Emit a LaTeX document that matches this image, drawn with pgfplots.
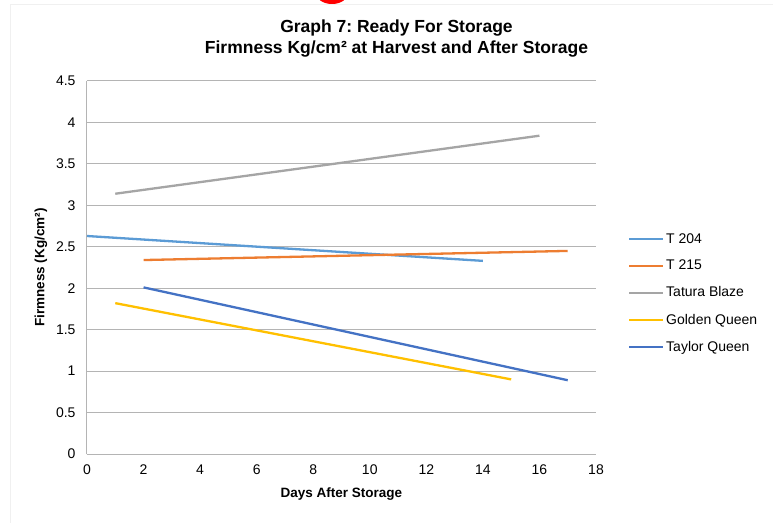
\documentclass[border=0pt]{standalone}
\usepackage{pgfplots}
\pgfplotsset{compat=1.18}
\usepackage{fontspec}
\setmainfont{Liberation Sans}
\frenchspacing
\definecolor{cA}{HTML}{5B9BD5}
\definecolor{cB}{HTML}{ED7D31}
\definecolor{cC}{HTML}{A5A5A5}
\definecolor{cD}{HTML}{FFC000}
\definecolor{cE}{HTML}{4472C4}
\definecolor{gridc}{HTML}{B4B4B4}
\begin{document}
\begin{tikzpicture}[x=1pt,y=1pt]
\useasboundingbox (0,0) rectangle (774,523);
\fill[white] (0,0) rectangle (774,523);
\draw[gray!12,line width=1pt] (10,0) -- (10,518) -- (773,518);
\fill[red] (332,530) ellipse [x radius=16, y radius=11];
\node[font=\bfseries\fontsize{17.5}{20}\selectfont] at (396.5,495) {Graph 7: Ready For Storage};
\node[font=\bfseries\fontsize{17.5}{20}\selectfont] at (396.5,474) {Firmness Kg/cm² at Harvest and After Storage};
\begin{axis}[
  at={(87pt,69pt)}, anchor=south west,
  width=509pt, height=373pt, scale only axis,
  xmin=0, xmax=18, ymin=0, ymax=4.5,
  xtick={0,2,...,18}, ytick={0,0.5,...,4.5},
  yticklabels={0,0.5,1,1.5,2,2.5,3,3.5,4,4.5},
  axis x line=bottom, axis y line=left,
  axis line style={gridc, line width=1pt, -},
  major tick length=0pt,
  ymajorgrids, grid style={gridc, line width=1pt},
  /pgf/number format/assume math mode=true,
  tick label style={font=\fontsize{14}{16}\selectfont, black},
  xticklabel style={yshift=-7pt},
  yticklabel style={xshift=-8pt},
  xlabel={\bfseries Days After Storage},
  ylabel={\bfseries Firmness (Kg/cm²)},
  label style={font=\bfseries\fontsize{13.5}{16}\selectfont},
  xlabel style={yshift=-6pt},
  ylabel style={yshift=2pt},
  legend style={at={(541pt,161pt)}, anchor=west, draw=none, fill=none,
    font=\fontsize{14}{16}\selectfont, row sep=11.5pt, inner sep=0pt},
  legend cell align=left,
  legend image code/.code={\draw[#1, line width=2pt] (0pt,0pt) -- (34pt,0pt);},
  every axis plot/.append style={line width=2.3pt},
  clip=false,
]
\addplot[cA] coordinates {(0,2.63) (14,2.33)};
\addlegendentry{T 204}
\addplot[cB] coordinates {(2,2.34) (17,2.45)};
\addlegendentry{T 215}
\addplot[cC] coordinates {(1,3.14) (16,3.84)};
\addlegendentry{Tatura Blaze}
\addplot[cD] coordinates {(1,1.82) (15,0.90)};
\addlegendentry{Golden Queen}
\addplot[cE] coordinates {(2,2.01) (17,0.89)};
\addlegendentry{Taylor Queen}
\end{axis}
\end{tikzpicture}
\end{document}
